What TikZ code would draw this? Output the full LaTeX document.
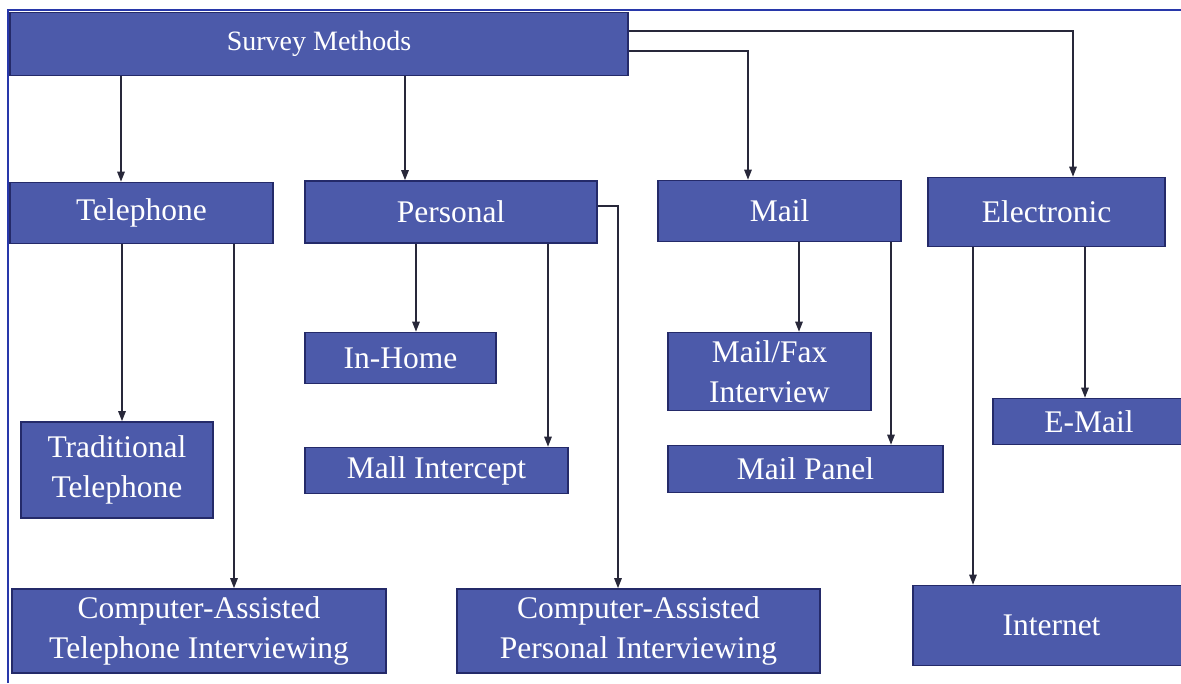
\documentclass[tikz,border=0pt]{standalone}
\usepackage{fontspec}
\setmainfont{Liberation Serif}
\usetikzlibrary{arrows.meta}
\definecolor{boxfill}{RGB}{76,90,170}
\definecolor{boxline}{RGB}{36,42,105}
\definecolor{framecol}{RGB}{40,56,170}
\definecolor{linkcol}{RGB}{40,40,58}
\tikzset{
  box/.style={draw=boxline, line width=1.6pt, fill=boxfill, text=white,
    inner sep=0pt, align=center, font=\fontsize{31.5}{40}\selectfont},
  link/.style={draw=linkcol, line width=1.3pt,
    -{Triangle[length=10pt,width=7.5pt]}},
}
\begin{document}
\begin{tikzpicture}[x=1pt,y=-1pt]
\useasboundingbox (0,0) rectangle (1181,683);
% outer frame
\draw[framecol, line width=1.4pt] (8,683) -- (8,10) -- (1181,10);

% top level
\node[box, minimum width=618pt, minimum height=63pt, font=\fontsize{28}{34}\selectfont] (sm) at (319,44) {Survey Methods};

% second level
\node[box, minimum width=263pt, minimum height=61pt] (tel) at (141.5,213) {Telephone};
\node[box, minimum width=292pt, minimum height=62pt] (per) at (451,212) {Personal};
\node[box, minimum width=243pt, minimum height=61pt] (mail) at (779.5,211) {Mail};
\node[box, minimum width=237pt, minimum height=69pt] (ele) at (1046.5,212) {Electronic};

% third level
\node[box, minimum width=192pt, minimum height=96pt] (trad) at (117,470) {Traditional\\Telephone};
\node[box, minimum width=374pt, minimum height=84pt] (cati) at (199,631) {Computer-Assisted\\Telephone Interviewing};
\node[box, minimum width=191pt, minimum height=51pt] (inh) at (400.5,358) {In-Home};
\node[box, minimum width=263pt, minimum height=46pt] (mall) at (436.5,470.5) {Mall Intercept};
\node[box, minimum width=363pt, minimum height=84pt] (capi) at (638.5,631) {Computer-Assisted\\Personal Interviewing};
\node[box, minimum width=203pt, minimum height=78pt] (mfax) at (769.5,371.5) {Mail/Fax\\Interview};
\node[box, minimum width=275pt, minimum height=47pt] (mpan) at (805.5,469) {Mail Panel};
\node[box, minimum width=192pt, minimum height=46pt] (email) at (1089,421.5) {E-Mail};
\node[box, minimum width=277pt, minimum height=80pt] (inet) at (1051.5,625.5) {Internet};

% connector columns and rows
\coordinate (xT) at (121,0);
\coordinate (xP) at (405,0);
\coordinate (xM) at (748,0);
\coordinate (xE) at (1073,0);
\coordinate (yE) at (0,31);
\coordinate (yM) at (0,51);
\coordinate (xTT) at (122,0);
\coordinate (xTC) at (234,0);
\coordinate (xPH) at (416,0);
\coordinate (xPM) at (548,0);
\coordinate (xPC) at (618,0);
\coordinate (yPC) at (0,206);
\coordinate (xMF) at (799,0);
\coordinate (xMP) at (891,0);
\coordinate (xEI) at (973,0);
\coordinate (xEE) at (1085,0);

% first level links
\draw[link] (sm.south -| xT) -- (tel.north -| xT);
\draw[link] (sm.south -| xP) -- (per.north -| xP);
\draw[link] (sm.east |- yM) -| (mail.north -| xM);
\draw[link] (sm.east |- yE) -| (ele.north -| xE);

% telephone
\draw[link] (tel.south -| xTT) -- (trad.north -| xTT);
\draw[link] (tel.south -| xTC) -- (cati.north -| xTC);
% personal
\draw[link] (per.south -| xPH) -- (inh.north -| xPH);
\draw[link] (per.south -| xPM) -- (mall.north -| xPM);
\draw[link] (per.east |- yPC) -| (capi.north -| xPC);
% mail
\draw[link] (mail.south -| xMF) -- (mfax.north -| xMF);
\draw[link] (mail.south -| xMP) -- (mpan.north -| xMP);
% electronic
\draw[link] (ele.south -| xEI) -- (inet.north -| xEI);
\draw[link] (ele.south -| xEE) -- (email.north -| xEE);
\end{tikzpicture}
\end{document}
